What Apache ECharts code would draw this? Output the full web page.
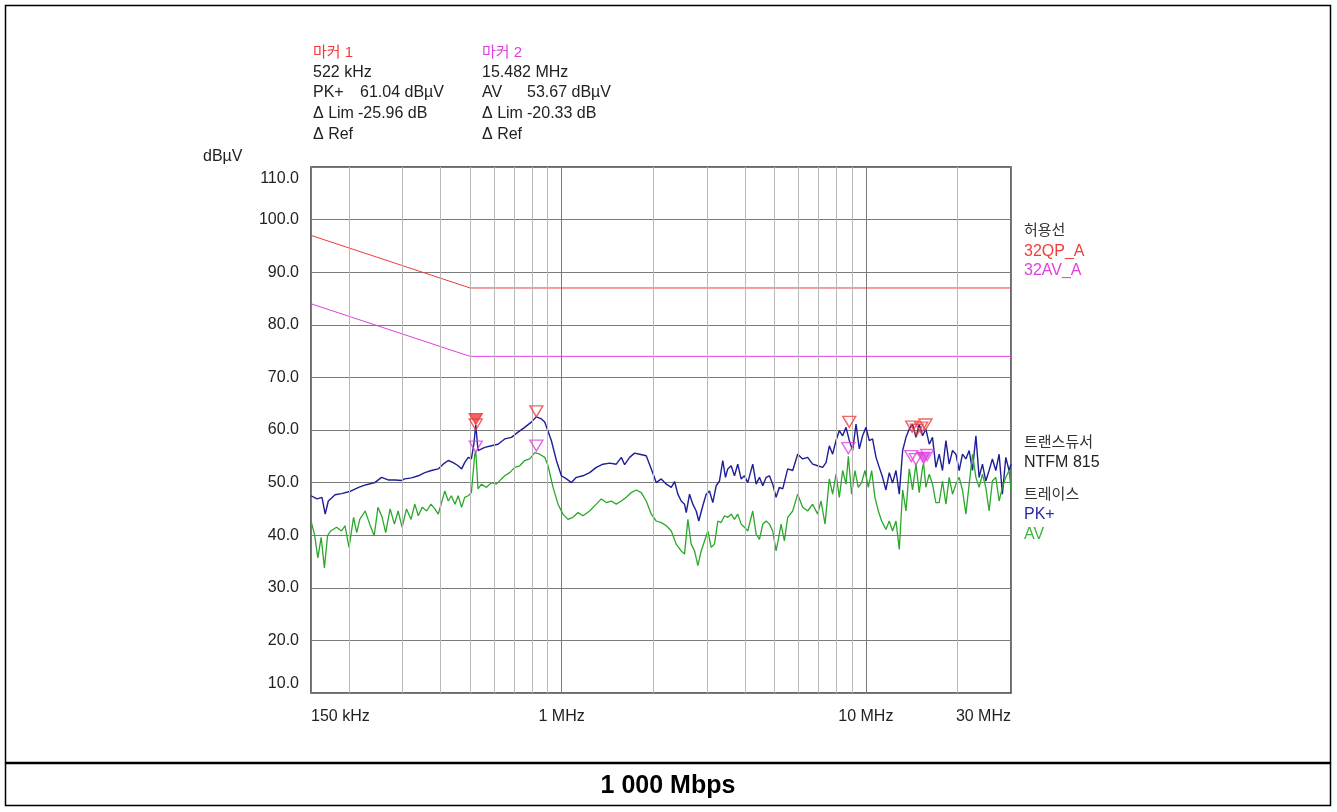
<!DOCTYPE html>
<html><head><meta charset="utf-8">
<script src="https://cdn.jsdelivr.net/npm/echarts@6/dist/echarts.min.js"></script>
<style>html,body{margin:0;padding:0;background:#fff}#c{width:1337px;height:812px}</style>
</head><body><div id="c"></div>
<script>
// ---- data (frequency in MHz, level in dBµV) ----
const xTickLabels = {0.15: '150 kHz', 1: '1 MHz', 10: '10 MHz', 30: '30 MHz'};
const minorGridFreq = [0.2,0.3,0.4,0.5,0.6,0.7,0.8,0.9,2,3,4,5,6,7,8,9,20];

const qpLimitFreq = [0.15, 0.5, 30];
const qpLimitLevel = [97, 87, 87];
const avLimitFreq = [0.15, 0.5, 30];
const avLimitLevel = [84, 74, 74];

const pkFreq = [0.150,0.157,0.163,0.167,0.171,0.180,0.189,0.201,0.215,0.228,0.243,0.256,0.269,0.283,0.298,0.305,0.321,0.338,0.355,0.373,0.393,0.408,0.424,0.440,0.457,0.469,0.480,0.493,0.505,0.515,0.522,0.531,0.559,0.588,0.618,0.650,0.684,0.719,0.756,0.795,0.826,0.858,0.880,0.925,0.961,0.998,1.037,1.077,1.118,1.175,1.236,1.300,1.367,1.438,1.512,1.571,1.611,1.673,1.737,1.804,1.897,1.971,2.046,2.126,2.208,2.293,2.351,2.410,2.472,2.535,2.568,2.633,2.699,2.769,2.824,2.911,2.986,3.062,3.140,3.221,3.302,3.386,3.456,3.516,3.608,3.699,3.792,3.891,3.989,4.091,4.248,4.359,4.470,4.583,4.702,4.820,4.941,5.070,5.197,5.330,5.535,5.748,5.969,6.198,6.437,6.685,6.943,7.212,7.398,7.585,7.777,7.980,8.182,8.388,8.607,8.823,9.047,9.283,9.516,9.756,10.01,10.26,10.52,10.80,11.07,11.35,11.64,11.94,12.24,12.56,12.88,13.21,13.55,13.89,14.24,14.61,14.98,15.36,15.75,16.16,16.56,16.99,17.42,17.86,18.33,18.79,19.27,19.77,20.27,20.78,21.32,21.86,22.41,23.00,23.57,24.17,24.79,25.42,26.06,26.74,27.42,28.11,28.84,29.57,30.00];
const pkLevel = [47.5,46.9,47.2,44.0,46.5,47.7,47.9,48.3,49.1,49.6,50.0,51.0,50.5,50.5,50.4,50.7,50.9,51.3,51.9,52.3,52.6,53.5,54.2,53.8,53.2,52.6,53.8,54.8,54.5,57.5,61.0,56.1,56.7,57.0,57.3,58.3,58.6,59.6,60.5,61.5,62.5,62.1,61.5,58.0,54.2,51.3,50.7,50.0,51.0,51.3,51.9,52.9,53.5,53.7,53.5,54.8,53.4,54.8,55.6,55.4,55.1,52.6,50.0,50.7,49.7,49.1,50.2,47.8,46.5,45.9,44.3,47.8,45.9,44.6,42.7,45.6,47.8,48.4,46.2,49.4,50.3,54.2,51.0,52.6,53.2,51.3,53.5,50.7,51.3,50.0,53.5,49.7,51.0,49.4,51.0,51.3,49.7,47.2,49.1,48.8,52.6,52.3,55.4,54.5,54.8,53.5,53.2,52.9,53.8,57.0,55.4,58.0,59.9,58.9,60.5,58.0,56.1,61.1,56.4,58.9,60.5,58.0,58.3,54.8,52.9,51.0,48.6,51.9,49.9,52.3,47.8,56.1,58.6,60.2,61.1,58.6,61.1,58.9,60.2,57.3,58.6,52.9,55.4,52.3,58.0,53.5,56.1,55.4,52.3,55.4,54.5,56.1,52.3,58.9,51.0,53.5,50.3,52.3,54.5,52.3,55.4,47.8,54.8,52.3,53.5];

const avFreq = [0.150,0.154,0.158,0.162,0.166,0.170,0.174,0.182,0.189,0.194,0.200,0.207,0.212,0.217,0.226,0.234,0.242,0.249,0.257,0.264,0.273,0.282,0.290,0.299,0.309,0.320,0.329,0.338,0.348,0.360,0.372,0.383,0.393,0.403,0.413,0.424,0.434,0.446,0.457,0.469,0.480,0.493,0.505,0.518,0.522,0.531,0.545,0.566,0.588,0.611,0.634,0.650,0.675,0.701,0.728,0.756,0.785,0.816,0.847,0.880,0.902,0.937,0.973,1.010,1.049,1.090,1.132,1.175,1.236,1.300,1.350,1.402,1.456,1.512,1.571,1.631,1.694,1.760,1.827,1.897,1.971,2.046,2.126,2.208,2.293,2.380,2.472,2.535,2.600,2.666,2.735,2.804,2.876,2.949,3.024,3.101,3.180,3.262,3.345,3.430,3.516,3.608,3.699,3.792,3.891,3.989,4.091,4.248,4.359,4.470,4.583,4.702,4.820,4.941,5.070,5.171,5.264,5.397,5.535,5.748,5.969,6.198,6.437,6.685,6.943,7.121,7.343,7.585,7.777,7.980,8.182,8.388,8.607,8.757,8.980,9.208,9.444,9.686,9.933,10.19,10.45,10.71,10.99,11.27,11.64,11.94,12.24,12.56,12.88,13.21,13.55,13.89,14.24,14.61,14.98,15.36,15.48,15.75,16.16,16.56,16.99,17.42,17.86,18.33,18.79,19.27,19.77,20.27,20.78,21.32,21.86,22.41,23.00,23.57,24.17,24.79,25.42,26.06,26.74,27.42,28.11,28.84,29.57,30.00];
const avLevel = [42.7,40.2,35.7,39.6,33.8,39.9,40.8,41.5,40.8,41.8,37.7,43.4,40.5,43.0,44.6,42.1,39.9,45.3,43.4,40.5,45.0,42.1,44.6,41.5,45.0,43.0,45.9,43.7,45.3,44.6,45.9,45.0,44.0,46.2,48.4,46.5,47.5,45.9,47.5,45.3,47.2,47.5,48.1,55.4,56.0,48.8,49.7,49.1,50.0,49.7,50.7,51.3,51.9,52.9,53.2,54.2,54.5,55.7,55.4,54.8,53.2,49.1,45.9,44.0,43.0,43.4,44.3,43.7,44.6,45.9,46.9,46.2,46.5,45.9,46.5,47.2,48.1,48.6,48.1,46.5,44.0,42.7,42.4,41.8,40.8,38.3,37.0,36.4,43.0,38.3,37.0,34.2,37.0,38.9,40.8,37.7,38.3,42.7,42.4,43.7,43.4,44.0,43.0,44.0,42.1,41.5,40.8,44.6,40.2,39.2,42.1,42.7,42.1,40.8,37.0,39.6,42.1,38.9,43.4,44.6,47.8,45.3,44.6,45.9,44.0,46.5,42.1,50.7,47.8,51.6,47.2,52.3,49.7,55.0,47.8,52.3,49.1,50.0,52.3,49.1,52.3,47.2,44.6,42.7,41.1,42.7,40.8,42.7,37.3,48.6,44.6,52.6,48.6,53.5,48.1,52.9,53.67,49.1,51.6,49.7,46.2,46.2,50.3,45.9,51.0,47.8,49.7,51.0,48.6,44.0,49.7,55.4,51.0,49.1,51.6,49.1,44.6,50.3,51.0,46.5,49.1,51.0,52.3,48.6];

// markers
const marker1Freq = [0.522];   const marker1Level = [61.04];
const marker2Freq = [15.482];  const marker2Level = [53.67];
const pkMarkFreq = [0.522, 0.826, 8.82, 14.2, 14.7, 15.2, 15.7];
const pkMarkLevel = [60.0, 62.5, 60.5, 59.6, 59.0, 59.4, 60.0];
const avMarkFreq = [0.522, 0.826, 8.76, 14.1, 14.6, 15.9];
const avMarkLevel = [55.8, 56.0, 55.5, 54.0, 53.4, 54.2];

const zip = (a, b) => a.map((v, i) => [v, b[i]]);

const FONT = "'Liberation Sans', Arial, 'Noto Sans CJK KR', sans-serif";
const KFONT = "'Liberation Sans', 'Noto Sans CJK KR', sans-serif";
const C_RED = '#f03c3c', C_MAG = '#e040e0', C_PK = '#1e1e96', C_AV = '#2aa82a';

const chart = echarts.init(document.getElementById('c'), null, {renderer: 'canvas'});

function txt(x, y, s, color, size, extra) {
  return Object.assign({type: 'text', x: x, y: y, style: {text: s, fill: color || '#222', font: (size || 16) + 'px ' + KFONT, textVerticalAlign: 'middle'}}, extra || {});
}

const triSym = (color, filled) => ({
  type: 'scatter', symbol: 'triangle', symbolRotate: 180, symbolSize: [13, 11], symbolOffset: [0, -5.5],
  itemStyle: {color: filled ? color : 'rgba(255,255,255,0)', borderColor: color, borderWidth: 1.4},
  z: 6, silent: true
});

chart.setOption({
  animation: false,
  backgroundColor: '#fff',
  grid: {left: 311, top: 167, width: 700, height: 526, show: true, borderColor: '#3a3a3a', borderWidth: 1.5, backgroundColor: '#fff'},
  xAxis: {
    type: 'log', logBase: 10, min: 0.15, max: 30,
    axisLine: {show: false}, axisTick: {show: false},
    splitLine: {show: true, lineStyle: {color: '#7a7a7a', width: 1}},
    axisLabel: {
      margin: 16, color: '#222', fontSize: 16, fontFamily: FONT,
      alignMinLabel: 'left', alignMaxLabel: 'right',
      formatter: v => { const k = Object.keys(xTickLabels).find(t => Math.abs(Math.log10(+t) - Math.log10(v)) < 0.01); return k ? xTickLabels[k] : ''; }
    }
  },
  yAxis: {
    type: 'value', min: 10, max: 110, interval: 10,
    axisLine: {show: false}, axisTick: {show: false},
    splitLine: {show: true, lineStyle: {color: '#7a7a7a', width: 1}},
    axisLabel: {
      margin: 12, color: '#222', fontSize: 16, fontFamily: FONT,
      formatter: v => v === 110 ? '{top|110.0}' : (v === 10 ? '{bot|10.0}' : v.toFixed(1)),
      rich: {
        top: {padding: [24, 0, 0, 0], fontSize: 16, fontFamily: FONT, color: '#222'},
        bot: {padding: [0, 0, 18, 0], fontSize: 16, fontFamily: FONT, color: '#222'}
      }
    }
  },
  series: [
    {type: 'line', data: [], z: 1, silent: true,
     markLine: {silent: true, symbol: 'none', animation: false, label: {show: false},
       lineStyle: {color: '#b8b8b8', width: 1, type: 'solid'},
       data: minorGridFreq.map(f => ({xAxis: f}))}},
    {type: 'line', data: zip(qpLimitFreq, qpLimitLevel), showSymbol: false, lineStyle: {color: C_RED, width: 1}, z: 2, silent: true},
    {type: 'line', data: zip(avLimitFreq, avLimitLevel), showSymbol: false, lineStyle: {color: C_MAG, width: 1}, z: 2, silent: true},
    {type: 'line', data: zip(pkFreq, pkLevel), showSymbol: false, lineStyle: {color: C_PK, width: 1.4}, z: 3, silent: true},
    {type: 'line', data: zip(avFreq, avLevel), showSymbol: false, lineStyle: {color: C_AV, width: 1.3}, z: 4, silent: true},
    Object.assign(triSym(C_RED, false), {data: zip(pkMarkFreq, pkMarkLevel)}),
    Object.assign(triSym(C_RED, true), {data: zip(marker1Freq, marker1Level)}),
    Object.assign(triSym(C_MAG, false), {data: zip(avMarkFreq, avMarkLevel)}),
    Object.assign(triSym(C_MAG, true), {data: zip(marker2Freq, marker2Level)})
  ],
  graphic: [
    {type: 'rect', shape: {x: 5.5, y: 5.5, width: 1325, height: 800}, style: {fill: 'none', stroke: '#000', lineWidth: 1.5}, z: 0},
    {type: 'line', shape: {x1: 5, y1: 763, x2: 1331, y2: 763}, style: {stroke: '#000', lineWidth: 2.5}},
    {type: 'text', x: 668, y: 786, style: {text: '1 000 Mbps', fill: '#000', font: 'bold 25px ' + FONT, textAlign: 'center', textVerticalAlign: 'middle'}},
    txt(203, 157, 'dBµV', '#222'),
    // marker 1 block
    txt(313, 53, '마커 1', C_RED, 15),
    txt(313, 73, '522 kHz'),
    txt(313, 93, 'PK+'), txt(360, 93, '61.04 dBµV'),
    txt(313, 114, 'Δ Lim'), txt(358, 114, '-25.96 dB'),
    txt(313, 135, 'Δ Ref'),
    // marker 2 block
    txt(482, 53, '마커 2', C_MAG, 15),
    txt(482, 73, '15.482 MHz'),
    txt(482, 93, 'AV'), txt(527, 93, '53.67 dBµV'),
    txt(482, 114, 'Δ Lim'), txt(527, 114, '-20.33 dB'),
    txt(482, 135, 'Δ Ref'),
    // right side legend
    txt(1024, 231, '허용선', '#333', 15),
    txt(1024, 252, '32QP_A', C_RED),
    txt(1024, 271, '32AV_A', C_MAG),
    txt(1024, 443, '트랜스듀서', '#333', 15),
    txt(1024, 463, 'NTFM 815', '#222'),
    txt(1024, 495, '트레이스', '#333', 15),
    txt(1024, 515, 'PK+', '#2a2aa0'),
    txt(1024, 535, 'AV', '#3cb43c')
  ]
});
</script>
</body></html>
